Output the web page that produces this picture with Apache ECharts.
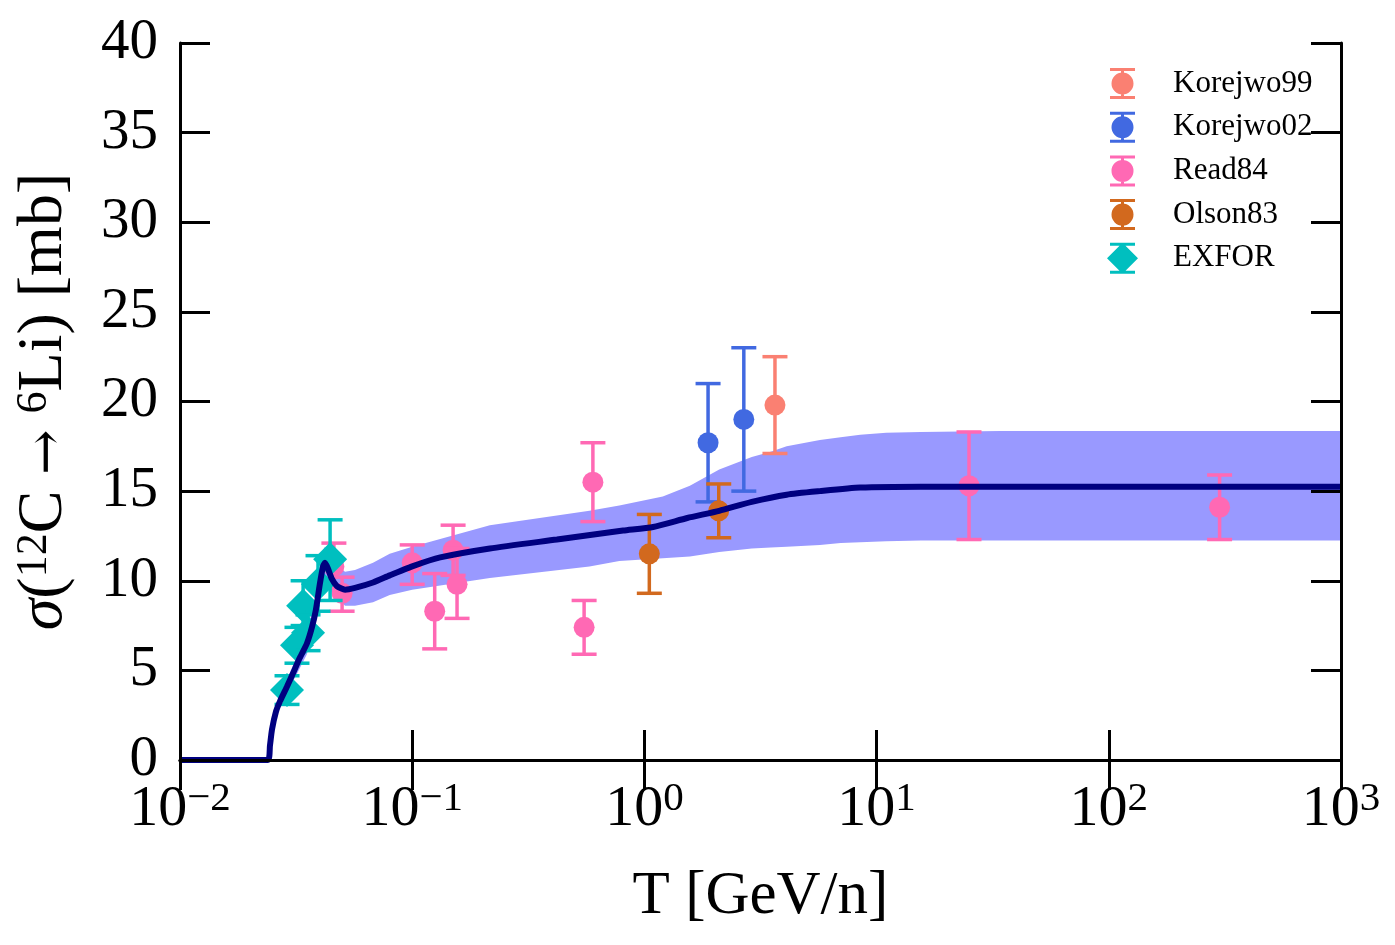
<!DOCTYPE html>
<html>
<head>
<meta charset="utf-8">
<script src="https://cdn.jsdelivr.net/npm/echarts@6.0.0/dist/echarts.min.js"></script>
<style>
  html, body { margin: 0; padding: 0; background: #fff; }
  #chart { width: 1395px; height: 945px; }
</style>
</head>
<body>
<div id="chart"></div>
<script>
// model curve (GeV/n, mb)
const T_MODEL = [0.01, 0.0239, 0.0244, 0.0249, 0.0259, 0.027, 0.0289, 0.0307, 0.0328, 0.0352, 0.037, 0.0385,
  0.04, 0.0413, 0.0421, 0.0433, 0.0451, 0.0474, 0.0514, 0.0567, 0.0678, 0.0801, 0.1, 0.132, 0.216, 0.42,
  0.81, 1.09, 1.53, 2.1, 2.9, 4.1, 5.7, 8.5, 15.5, 34, 1000];
const SIGMA_MODEL = [0, 0, 0.8, 1.7, 2.7, 3.3, 4.1, 4.85, 5.7, 6.5, 7.4, 8.4,
  9.8, 10.8, 11.0, 10.7, 10.1, 9.7, 9.5, 9.6, 9.9, 10.3, 10.8, 11.3, 11.8, 12.3,
  12.8, 13.0, 13.5, 13.9, 14.4, 14.8, 15.0, 15.2, 15.25, 15.25, 15.25];

// uncertainty band
const T_BAND = [0.027, 0.0307, 0.0352, 0.0385, 0.0413, 0.0421, 0.0451, 0.0514, 0.0567, 0.0678, 0.08, 0.1,
  0.216, 0.58, 0.78, 1.2, 1.57, 2.1, 2.9, 3.5, 4.1, 5.7, 7, 8.5, 11, 15.5, 34, 1000];
const BAND_LO = [3.0, 4.4, 5.9, 7.7, 10.0, 10.2, 9.3, 8.6, 8.6, 8.8, 9.2, 9.5,
  10.15, 10.8, 11.1, 11.25, 11.35, 11.6, 11.8, 11.85, 11.9, 12.0, 12.1, 12.15, 12.2, 12.25, 12.25, 12.25];
const BAND_HI = [3.6, 5.3, 7.1, 9.2, 11.7, 11.9, 11.0, 10.5, 10.6, 11.0, 11.5, 11.9,
  13.1, 13.9, 14.2, 14.7, 15.3, 16.2, 16.9, 17.2, 17.5, 17.85, 18.0, 18.15, 18.25, 18.3, 18.35, 18.35];

// measurements: energy, value, lower, upper
const KOR99_T = [3.65];
const KOR99_V = [19.8];
const KOR99_LO = [17.1];
const KOR99_HI = [22.5];

const KOR02_T = [1.88, 2.68];
const KOR02_V = [17.7, 19.0];
const KOR02_LO = [14.4, 15.0];
const KOR02_HI = [21.0, 23.0];

const READ84_T = [0.046, 0.0499, 0.1, 0.125, 0.15, 0.156, 0.55, 0.6, 25, 300];
const READ84_V = [10.8, 9.3, 11.0, 8.3, 11.7, 9.8, 7.4, 15.5, 15.3, 14.1];
const READ84_LO = [9.6, 8.3, 9.8, 6.2, 10.3, 7.9, 5.9, 13.3, 12.3, 12.3];
const READ84_HI = [12.1, 10.2, 12.0, 10.4, 13.1, 11.8, 8.9, 17.7, 18.3, 15.9];

const OLSON_T = [1.05, 2.09];
const OLSON_V = [11.5, 13.9];
const OLSON_LO = [9.3, 12.4];
const OLSON_HI = [13.7, 15.4];

const EXFOR_T = [0.0289, 0.0319, 0.0339, 0.0356, 0.0393, 0.0443];
const EXFOR_V = [3.9, 6.4, 8.6, 7.1, 9.8, 11.2];
const EXFOR_LO = [3.1, 5.4, 7.5, 6.1, 8.3, 8.9];
const EXFOR_HI = [4.7, 7.4, 10.0, 8.1, 11.4, 13.4];

const FONT = 'Liberation Serif';

const zip = (...cols) => cols[0].map((_, i) => cols.map(c => c[i]));

function errRender(marker) {
  return function (params, api) {
    const x = api.value(0);
    const p = api.coord([x, api.value(1)]);
    const pl = api.coord([x, api.value(2)]);
    const ph = api.coord([x, api.value(3)]);
    const color = api.visual('color');
    const lw = 3.5, cw = 12.5;
    const kids = [
      { type: 'line', shape: { x1: p[0], y1: pl[1], x2: p[0], y2: ph[1] }, style: { stroke: color, lineWidth: lw } },
      { type: 'line', shape: { x1: p[0] - cw, y1: pl[1], x2: p[0] + cw, y2: pl[1] }, style: { stroke: color, lineWidth: lw } },
      { type: 'line', shape: { x1: p[0] - cw, y1: ph[1], x2: p[0] + cw, y2: ph[1] }, style: { stroke: color, lineWidth: lw } }
    ];
    if (marker === 'diamond') {
      kids.push({ type: 'polygon', shape: { points: [[p[0], p[1] - 17], [p[0] + 17, p[1]], [p[0], p[1] + 17], [p[0] - 17, p[1]]] }, style: { fill: color } });
    } else {
      kids.push({ type: 'circle', shape: { cx: p[0], cy: p[1], r: 10.5 }, style: { fill: color } });
    }
    return { type: 'group', children: kids };
  };
}

function errSeries(name, color, t, v, lo, hi, marker) {
  return {
    name: name,
    type: 'custom',
    z: 3,
    itemStyle: { color: color },
    encode: { x: 0, y: [1, 2, 3] },
    renderItem: errRender(marker),
    data: zip(t, v, lo, hi)
  };
}

const circleIcon = 'path://M0,15.5L0.01,15.5 M3,0H28V3H3Z M3,28H28V31H3Z M14,0H17V31H14Z M4.5,15.5A11,11 0 1,1 26.5,15.5A11,11 0 1,1 4.5,15.5Z M31,15.5L30.99,15.5';
const diamondIcon = 'path://M3,0H28V3H3Z M3,28H28V31H3Z M14,0H17V31H14Z M15.5,0L31,15.5L15.5,31L0,15.5Z';

const supRich = {
  b: { fontFamily: FONT, fontSize: 58, lineHeight: 60, verticalAlign: 'bottom', color: '#000' },
  s: { fontFamily: FONT, fontSize: 41, lineHeight: 40, verticalAlign: 'top', padding: [0, 0, 34, 0], color: '#000' }
};

const chart = echarts.init(document.getElementById('chart'), null, { renderer: 'canvas' });

const bandData = zip(T_BAND, BAND_LO, BAND_HI);

const option = {
  backgroundColor: '#fff',
  animation: false,
  grid: { left: 180, right: 54, top: 43, bottom: 185 },
  legend: {
    orient: 'vertical',
    left: 1102,
    top: 63,
    itemWidth: 31,
    itemHeight: 31,
    itemGap: 12.7,
    textStyle: { fontFamily: FONT, fontSize: 31, lineHeight: 31, color: '#000', padding: [0, 0, 0, 30] },
    data: [
      { name: 'Korejwo99', icon: circleIcon },
      { name: 'Korejwo02', icon: circleIcon },
      { name: 'Read84', icon: circleIcon },
      { name: 'Olson83', icon: circleIcon },
      { name: 'EXFOR', icon: diamondIcon }
    ]
  },
  xAxis: [
    {
      type: 'log', logBase: 10, min: 0.01, max: 1000, z: 10,
      name: 'T [GeV/n]', nameLocation: 'middle', nameGap: 106,
      nameTextStyle: { fontFamily: FONT, fontSize: 61, color: '#000' },
      axisLine: { show: true, lineStyle: { color: '#000', width: 3 } },
      axisTick: { show: true, inside: true, length: 30, lineStyle: { color: '#000', width: 3 } },
      minorTick: { show: false },
      splitLine: { show: false },
      axisLabel: {
        margin: 19, showMinLabel: true, showMaxLabel: true,
        formatter: function (v) {
          const e = Math.round(Math.log10(v));
          return '{b|10}{s|' + (e < 0 ? '\u2212' + (-e) : e) + '}';
        },
        rich: supRich
      }
    },
    {
      type: 'log', logBase: 10, min: 0.01, max: 1000, position: 'top', z: 10,
      axisLine: { show: true, lineStyle: { color: '#000', width: 3 } },
      axisTick: { show: true, inside: true, length: 30, lineStyle: { color: '#000', width: 3 } },
      axisLabel: { show: false },
      splitLine: { show: false }
    }
  ],
  yAxis: [
    {
      type: 'value', min: 0, max: 40, interval: 5, z: 10,
      name: '{g|σ}{a|(}{s|12}{a|C }{r|→}{a| }{s|6}{a|Li) [mb]}',
      nameLocation: 'middle', nameGap: 102,
      nameTextStyle: {
        rich: {
          g: { fontFamily: FONT, fontStyle: 'italic', fontSize: 64, lineHeight: 64, verticalAlign: 'bottom', color: '#000' },
          a: { fontFamily: FONT, fontSize: 64, lineHeight: 64, verticalAlign: 'bottom', color: '#000' },
          r: { fontFamily: 'DejaVu Serif', fontSize: 54, lineHeight: 64, verticalAlign: 'bottom', color: '#000' },
          s: { fontFamily: FONT, fontSize: 44, lineHeight: 42, verticalAlign: 'top', padding: [0, 0, 34, 0], color: '#000' }
        }
      },
      axisLine: { show: true, lineStyle: { color: '#000', width: 3 } },
      axisTick: { show: true, inside: true, length: 30, lineStyle: { color: '#000', width: 3 } },
      splitLine: { show: false },
      axisLabel: { margin: 22, fontFamily: FONT, fontSize: 57, color: '#000' }
    },
    {
      type: 'value', min: 0, max: 40, interval: 5, position: 'right', z: 10,
      axisLine: { show: true, lineStyle: { color: '#000', width: 3 } },
      axisTick: { show: true, inside: true, length: 30, lineStyle: { color: '#000', width: 3 } },
      axisLabel: { show: false },
      splitLine: { show: false }
    }
  ],
  series: [
    {
      name: 'band',
      type: 'custom',
      z: 1,
      clip: true,
      silent: true,
      encode: { x: 0, y: [1, 2] },
      renderItem: function (params, api) {
        if (params.dataIndex !== 0) return null;
        const top = bandData.map(d => api.coord([d[0], d[2]]));
        const bot = bandData.map(d => api.coord([d[0], d[1]])).reverse();
        return { type: 'polygon', shape: { points: top.concat(bot) }, style: { fill: '#9999ff' } };
      },
      data: bandData
    },
    errSeries('Korejwo99', '#fa8072', KOR99_T, KOR99_V, KOR99_LO, KOR99_HI, 'circle'),
    errSeries('Korejwo02', '#4169e1', KOR02_T, KOR02_V, KOR02_LO, KOR02_HI, 'circle'),
    errSeries('Read84', '#ff69b4', READ84_T, READ84_V, READ84_LO, READ84_HI, 'circle'),
    errSeries('Olson83', '#d2691e', OLSON_T, OLSON_V, OLSON_LO, OLSON_HI, 'circle'),
    errSeries('EXFOR', '#00bfbf', EXFOR_T, EXFOR_V, EXFOR_LO, EXFOR_HI, 'diamond'),
    {
      name: 'model',
      type: 'line',
      z: 5,
      showSymbol: false,
      symbol: 'none',
      smooth: 0.2,
      lineStyle: { color: '#000080', width: 6 },
      data: zip(T_MODEL, SIGMA_MODEL)
    }
  ]
};

chart.setOption(option);
</script>
</body>
</html>
